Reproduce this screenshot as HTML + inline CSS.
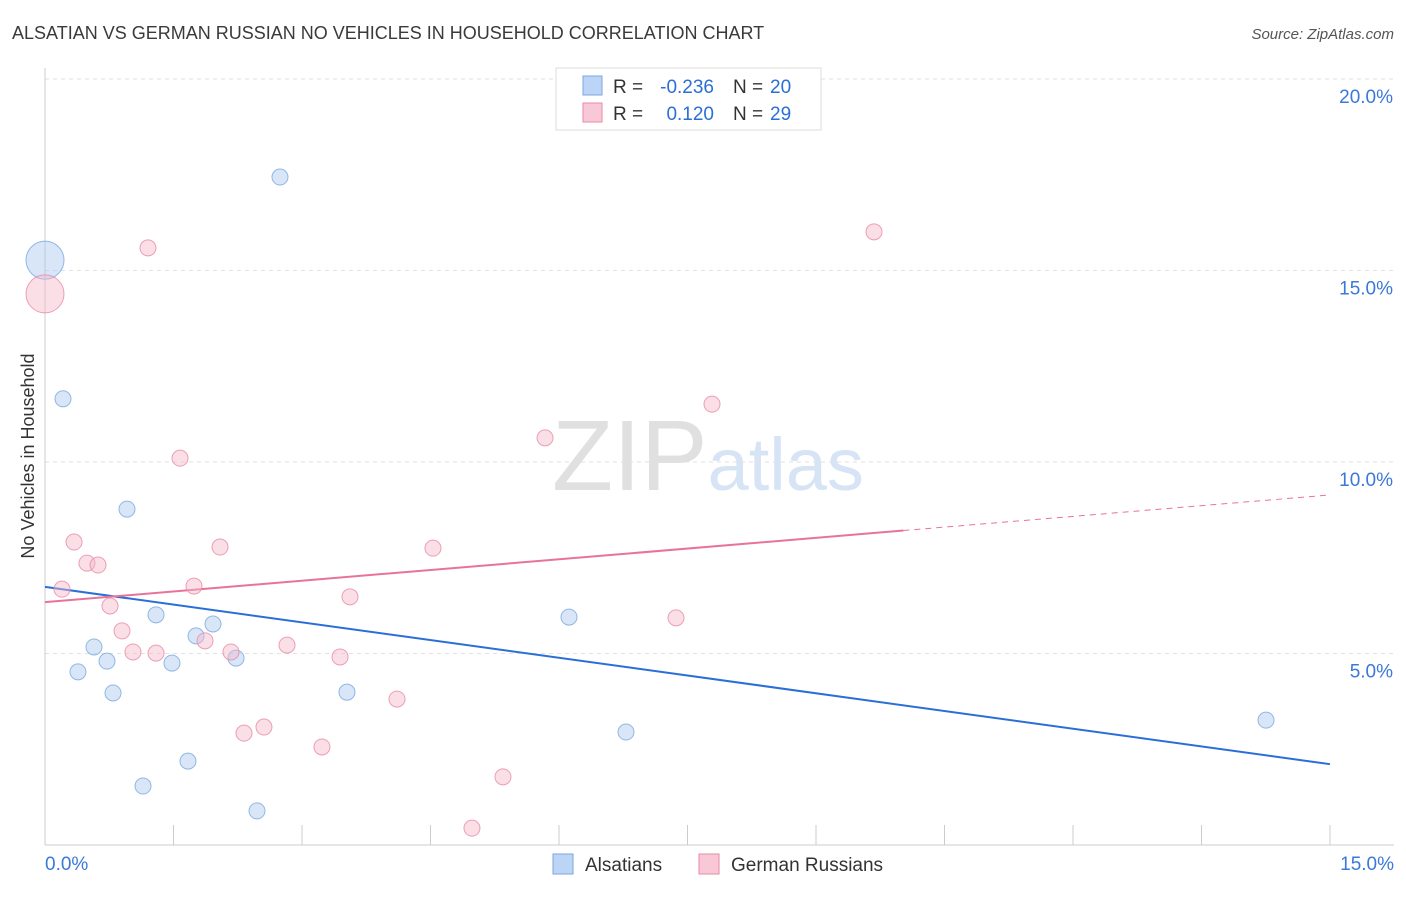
<!DOCTYPE html>
<html><head><meta charset="utf-8"><style>
body{margin:0;background:#fff;font-family:"Liberation Sans",sans-serif;}
svg text{font-family:"Liberation Sans",sans-serif;}
</style></head><body>
<svg id="chart" width="1406" height="892" xmlns="http://www.w3.org/2000/svg">
<text x="12" y="39" font-size="18" fill="#3a3a3a">ALSATIAN VS GERMAN RUSSIAN NO VEHICLES IN HOUSEHOLD CORRELATION CHART</text>
<text x="1394" y="39" font-size="15" fill="#555" text-anchor="end" font-style="italic">Source: ZipAtlas.com</text>
<text x="552" y="490" font-size="100" fill="#e0e0e0" font-family="Liberation Serif">ZIP<tspan fill="#d6e4f5" font-family="Liberation Sans" font-size="74">atlas</tspan></text>
<g id="grid"></g>
<g id="axes"></g>
<g id="lines"></g>
<g id="points"></g>
<text transform="translate(34,456) rotate(-90)" font-size="18" fill="#333" text-anchor="middle">No Vehicles in Household</text>
<g>
<rect x="556" y="68" width="265" height="62" fill="#fff" stroke="#ddd"/>
<rect x="583" y="76" width="19" height="19" fill="#bcd4f5" stroke="#7aa7e0"/>
<rect x="583" y="103" width="19" height="19" fill="#f9c8d6" stroke="#e88aa8"/>
<text x="613" y="93" font-size="19" fill="#333">R =</text>
<text x="714" y="93" font-size="19" fill="#2a6fd6" text-anchor="end">-0.236</text>
<text x="733" y="93" font-size="19" fill="#333">N =</text>
<text x="770" y="93" font-size="19" fill="#2a6fd6">20</text>
<text x="613" y="120" font-size="19" fill="#333">R =</text>
<text x="714" y="120" font-size="19" fill="#2a6fd6" text-anchor="end">0.120</text>
<text x="733" y="120" font-size="19" fill="#333">N =</text>
<text x="770" y="120" font-size="19" fill="#2a6fd6">29</text>
</g>
<g>
<rect x="553" y="854" width="20" height="20" fill="#bcd4f5" stroke="#7aa7e0"/>
<text x="585" y="871" font-size="19" fill="#333">Alsatians</text></g>
<g>
<rect x="699" y="854" width="20" height="20" fill="#f9c8d6" stroke="#e88aa8"/>
<text x="731" y="871" font-size="19" fill="#333">German Russians</text></g>
</svg>
<script>
const blueX=[0,2.743,0.21,0.957,1.296,0.572,0.724,0.385,1.482,1.763,1.961,2.23,0.794,3.525,6.117,1.669,1.144,2.475,6.782,14.253];
const blueY=[15.27,17.44,11.65,8.77,6.01,5.17,4.80,4.52,4.75,5.46,5.77,4.88,3.97,3.99,5.95,2.19,1.54,0.89,2.95,3.26];
const pinkX=[0,1.202,9.677,7.786,5.837,1.576,0.339,0.49,0.619,2.043,4.529,0.198,1.739,0.759,3.56,0.899,1.027,1.296,1.868,2.171,2.825,3.444,7.366,4.109,2.323,2.556,3.233,5.346,4.984];
const pinkY=[14.39,15.59,16.01,11.51,10.63,10.10,7.91,7.36,7.31,7.78,7.75,6.68,6.76,6.24,6.48,5.59,5.04,5.01,5.33,5.04,5.22,4.91,5.93,3.81,2.92,3.08,2.56,1.78,0.44];
const blueTrend=[6.74,2.11];
const pinkTrend=[6.34,9.14];
const pinkSolidEnd=10.02;
const yTicks=[5,10,15,20];
const yTickLabels=["5.0%","10.0%","15.0%","20.0%"];
const xTicks=[0,1.5,3,4.5,6,7.5,9,10.5,12,13.5,15];
const NS="http://www.w3.org/2000/svg";
const sx=v=>45+v*1285/15, sy=v=>845-v*191.5/5;
function mk(t,a,p){const e=document.createElementNS(NS,t);for(const k in a)e.setAttribute(k,a[k]);p.appendChild(e);return e;}
const grid=document.getElementById('grid'),axes=document.getElementById('axes'),lines=document.getElementById('lines'),pts=document.getElementById('points');
yTicks.forEach((t,i)=>{
 const l=mk('line',{x1:45,x2:1394,y1:sy(t),y2:sy(t),stroke:'#e2e2e2','stroke-dasharray':'4,4'},grid);
 
 
 const tx=mk('text',{x:1393,y:sy(t)+24,'font-size':19,fill:'#3b78d8','text-anchor':'end'},axes);
 tx.textContent=yTickLabels[i];
 
 
});
const ya=mk('line',{x1:45,x2:45,y1:68,y2:845,stroke:'#ccc'},axes);


const xa=mk('line',{x1:45,x2:1394,y1:845,y2:845,stroke:'#ccc'},axes);


xTicks.forEach(t=>{
 const l=mk('line',{x1:sx(t),x2:sx(t),y1:825,y2:845,stroke:'#ccc'},axes);
 
 
});
const x0=mk('text',{x:45,y:870,'font-size':19,fill:'#3b78d8'},axes);x0.textContent="0.0%";


const x1=mk('text',{x:1394,y:870,'font-size':19,fill:'#3b78d8','text-anchor':'end'},axes);x1.textContent="15.0%";


function pt(x,y,fill,stroke,name){
 const big=(x===0);
 const c=mk('circle',{cx:sx(x),cy:sy(y),r:big?19:8,fill:fill,'fill-opacity':0.45,stroke:stroke,'stroke-width':1,'stroke-opacity':0.8},pts);
 
 
}
blueX.forEach((x,i)=>pt(x,blueY[i],'#a9c8f0','#7aa7e0','alsatian-point'));
pinkX.forEach((x,i)=>pt(x,pinkY[i],'#f5b8ca','#e88aa8','german-russian-point'));
const bl=mk('line',{x1:sx(0),y1:sy(blueTrend[0]),x2:sx(15),y2:sy(blueTrend[1]),stroke:'#2a6fd6','stroke-width':2},lines);


const pm=v=>pinkTrend[0]+(pinkTrend[1]-pinkTrend[0])*v/15;
const pl=mk('line',{x1:sx(0),y1:sy(pm(0)),x2:sx(pinkSolidEnd),y2:sy(pm(pinkSolidEnd)),stroke:'#e8739a','stroke-width':2},lines);


const pd=mk('line',{x1:sx(pinkSolidEnd),y1:sy(pm(pinkSolidEnd)),x2:sx(15),y2:sy(pm(15)),stroke:'#e8739a','stroke-width':1,'stroke-dasharray':'6,5'},lines);


</script>
</body></html>
